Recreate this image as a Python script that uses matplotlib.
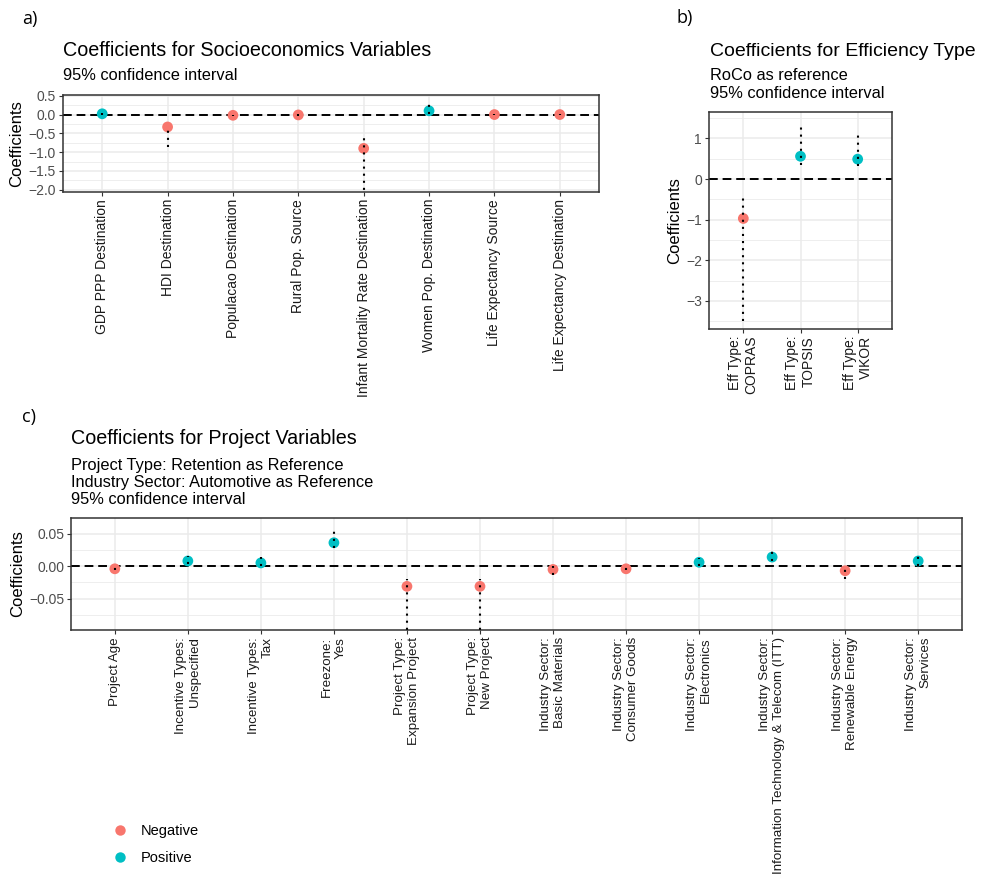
import matplotlib.pyplot as plt
from matplotlib.lines import Line2D
from matplotlib.ticker import MultipleLocator

plt.rcParams['font.family'] = ['Liberation Sans', 'DejaVu Sans']

NEG = '#F8766D'
POS = '#00BFC4'

# a) socioeconomic variables
socio_labels = ['GDP PPP Destination', 'HDI Destination', 'Populacao Destination',
                'Rural Pop. Source', 'Infant Mortality Rate Destination',
                'Women Pop. Destination', 'Life Expectancy Source', 'Life Expectancy Destination']
socio_coef = [0.02, -0.33, -0.02, -0.01, -0.90, 0.10, 0.0, 0.0]
socio_lo = [-0.01, -0.85, -0.04, -0.03, -2.20, 0.02, -0.02, -0.02]
socio_hi = [0.05, -0.30, 0.00, 0.01, -0.57, 0.38, 0.02, 0.02]

# b) efficiency type
eff_labels = ['Eff Type:\nCOPRAS', 'Eff Type:\nTOPSIS', 'Eff Type:\nVIKOR']
eff_coef = [-0.97, 0.56, 0.49]
eff_lo = [-3.50, 0.35, 0.33]
eff_hi = [-0.40, 1.38, 1.14]

# c) project variables
proj_labels = ['Project Age', 'Incentive Types:\nUnspecified', 'Incentive Types:\nTax',
               'Freezone:\nYes', 'Project Type:\nExpansion Project', 'Project Type:\nNew Project',
               'Industry Sector:\nBasic Materials', 'Industry Sector:\nConsumer Goods',
               'Industry Sector:\nElectronics',
               'Industry Sector:\nInformation Technology & Telecom (ITT)',
               'Industry Sector:\nRenewable Energy', 'Industry Sector:\nServices']
proj_coef = [-0.004, 0.008, 0.005, 0.036, -0.031, -0.031, -0.005, -0.004, 0.006, 0.014, -0.007, 0.008]
proj_lo = [-0.006, 0.003, 0.000, 0.028, -0.120, -0.120, -0.014, -0.006, 0.000, 0.008, -0.020, 0.000]
proj_hi = [-0.002, 0.015, 0.014, 0.060, -0.020, -0.020, 0.000, -0.002, 0.013, 0.030, 0.000, 0.022]


def coef_panel(ax, labels, coef, lo, hi, ylim, major, minor, xsize=10):
    x = list(range(len(labels)))
    cols = [POS if c > 0 else NEG for c in coef]
    ax.scatter(x, coef, s=60, c=cols, zorder=3, linewidths=0)
    ax.vlines(x, lo, hi, colors='black', linestyles=(0, (1, 2.4)), lw=1.5, zorder=4)
    ax.axhline(0, color='black', ls=(0, (4.5, 2.5)), lw=1.4, zorder=2)
    ax.set_xlim(-0.6, len(labels) - 0.4)
    ax.set_ylim(*ylim)
    ax.yaxis.set_major_locator(MultipleLocator(major))
    ax.yaxis.set_minor_locator(MultipleLocator(minor))
    ax.set_xticks(x)
    ax.set_xticklabels(labels, rotation=90, ha='center', va='top', multialignment='right')
    ax.grid(True, which='major', color='#EBEBEB', lw=1.1, zorder=0)
    ax.grid(True, which='minor', axis='y', color='#EBEBEB', lw=0.6, zorder=0)
    ax.set_axisbelow(True)
    ax.tick_params(axis='both', which='major', length=3, color='#333333', labelsize=10,
                   labelcolor='#4D4D4D', pad=2)
    ax.tick_params(axis='x', labelcolor='#1a1a1a', labelsize=xsize)
    ax.tick_params(which='minor', length=0)
    for s in ax.spines.values():
        s.set_color('#333333')
        s.set_linewidth(1.1)
    ax.set_ylabel('Coefficients', fontsize=12, labelpad=3)


fig = plt.figure(figsize=(9.85, 8.8), dpi=100)
W, H = 985.0, 880.0


def box(x0, y0, x1, y1):
    return [x0 / W, 1 - y1 / H, (x1 - x0) / W, (y1 - y0) / H]


ax_a = fig.add_axes(box(63, 95, 599, 192))
coef_panel(ax_a, socio_labels, socio_coef, socio_lo, socio_hi, (-2.06, 0.52), 0.5, 0.25)

ax_b = fig.add_axes(box(709, 112, 892, 329))
coef_panel(ax_b, eff_labels, eff_coef, eff_lo, eff_hi, (-3.69, 1.65), 1, 0.5)

ax_c = fig.add_axes(box(71, 518, 962, 630))
coef_panel(ax_c, proj_labels, proj_coef, proj_lo, proj_hi, (-0.098, 0.074), 0.05, 0.025,
           xsize=9.6)
ax_c.yaxis.set_major_formatter(plt.FuncFormatter(lambda v, p: f'{v:.2f}'.replace('-', '\u2212')))


def ftext(x, y, s, size, **kw):
    fig.text(x / W, 1 - y / H, s, fontsize=size, va='baseline', ha='left', **kw)


panel_font = ['Open Sans', 'DejaVu Sans']
ftext(22, 24, 'a)', 13, family=panel_font)
ftext(677, 23, 'b)', 13, family=panel_font)
ftext(22, 422, 'c)', 13, family=panel_font)

ftext(63, 56, 'Coefficients for Socioeconomics Variables', 14.2)
ftext(63, 80, '95% confidence interval', 11.8)

ftext(710, 56, 'Coefficients for Efficiency Type', 14.0)
ftext(710, 80, 'RoCo as reference', 11.8)
ftext(710, 98, '95% confidence interval', 11.8)

ftext(71, 444, 'Coefficients for Project Variables', 14.2)
ftext(71, 470, 'Project Type: Retention as Reference', 11.8)
ftext(71, 487, 'Industry Sector: Automotive as Reference', 11.8)
ftext(71, 504, '95% confidence interval', 11.8)

handles = [Line2D([], [], marker='o', ls='', color=NEG, markersize=7.5, markeredgewidth=0),
           Line2D([], [], marker='o', ls='', color=POS, markersize=7.5, markeredgewidth=0)]
fig.legend(handles, ['Negative', 'Positive'], loc='upper left',
           bbox_to_anchor=(100 / W, 1 - 811 / H), frameon=False, fontsize=10.5,
           handletextpad=0.9, labelspacing=0.9, handlelength=1.0)

fig.savefig('out.png', dpi=100)
